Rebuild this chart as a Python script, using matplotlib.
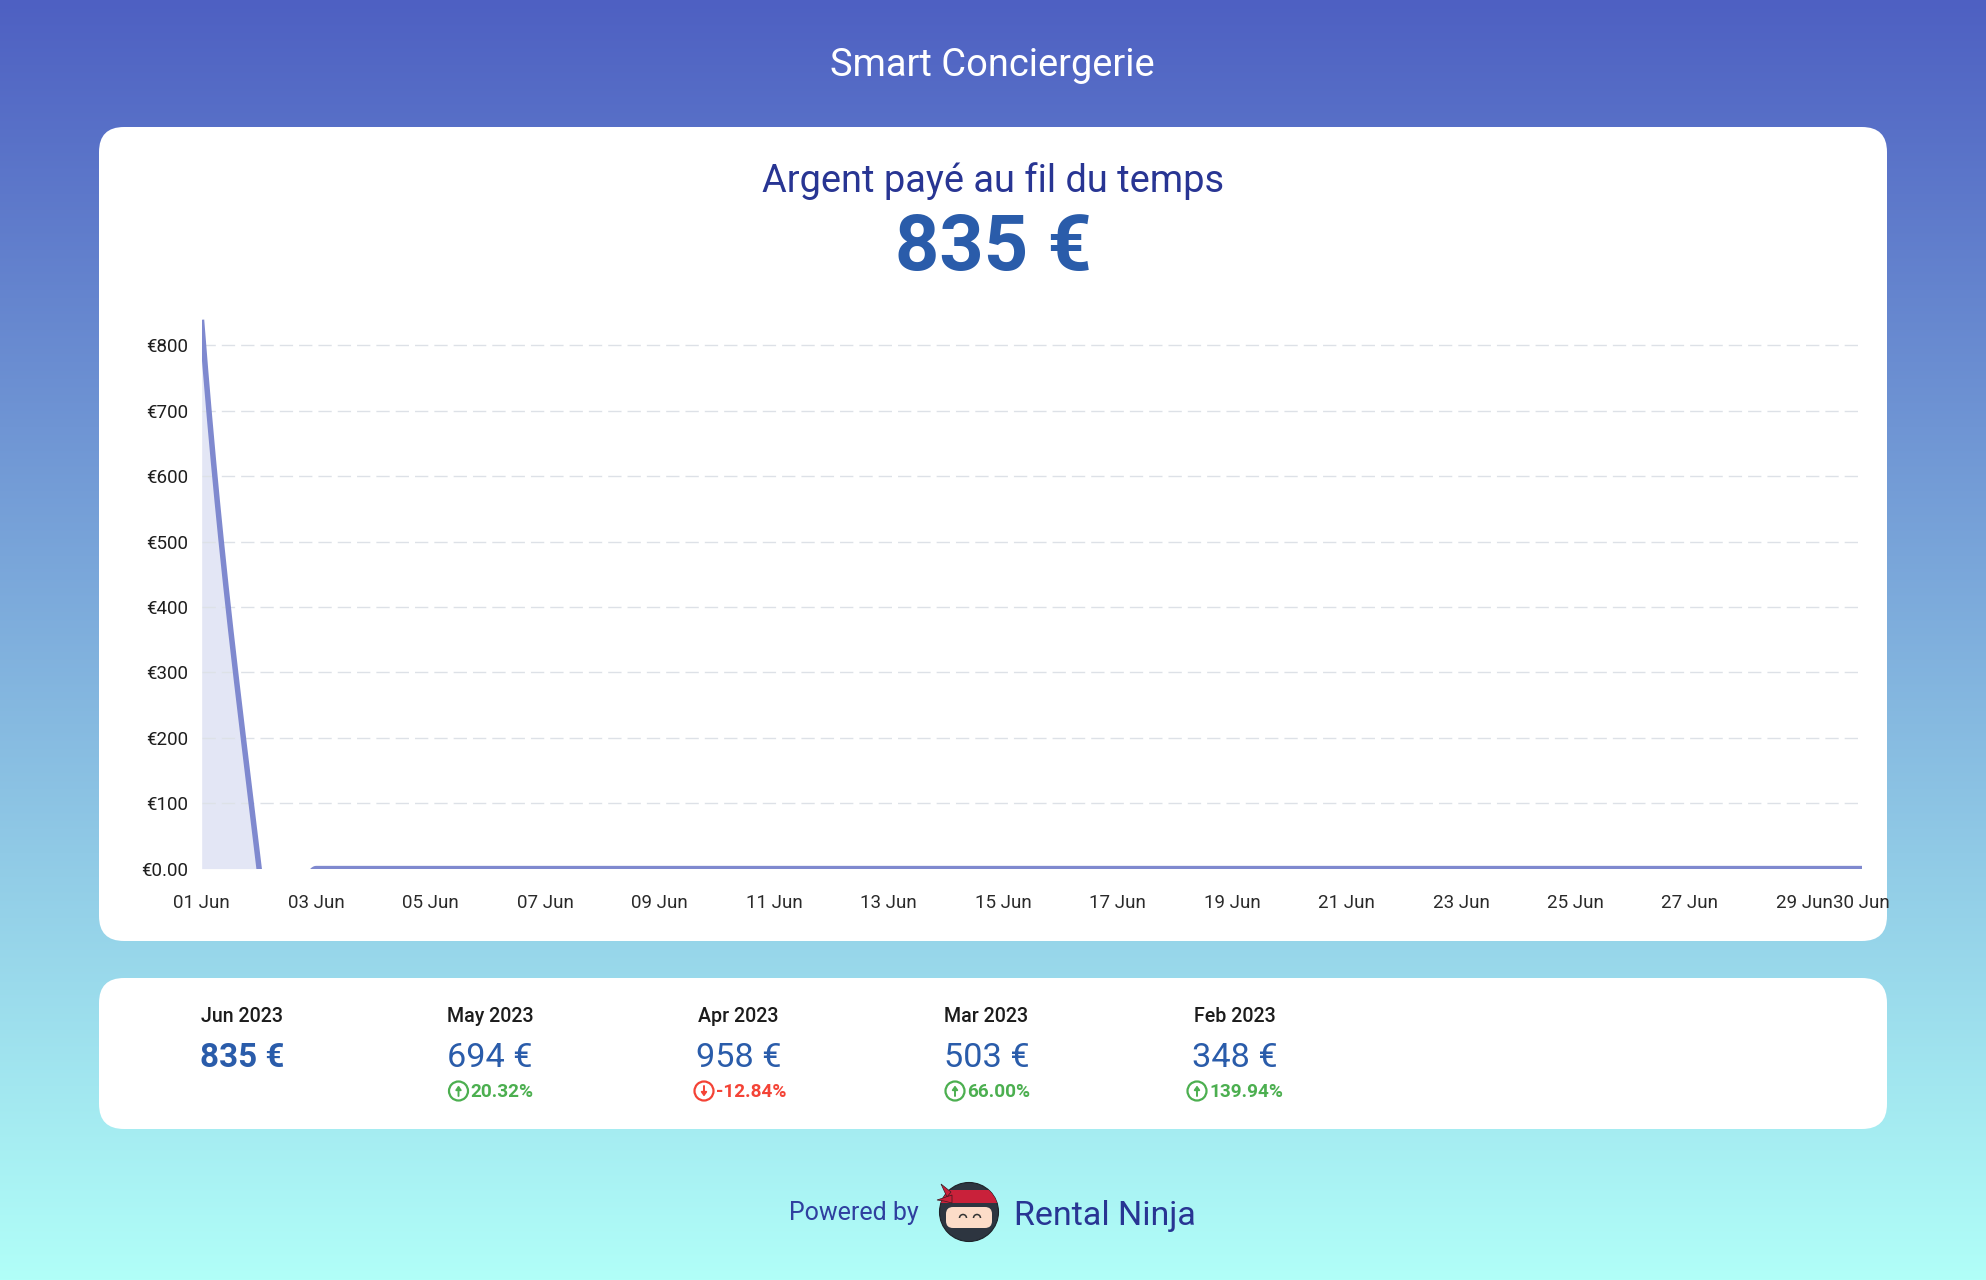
import numpy as np
import matplotlib
matplotlib.use("Agg")
import matplotlib.pyplot as plt
from matplotlib.patches import Circle, FancyBboxPatch, Polygon, Rectangle, Arc

plt.rcParams['font.family'] = ['Roboto', 'DejaVu Sans']

W, H = 1986, 1280

# Data
days = list(range(1, 31))
paid = [835] + [0] * 29
y_ticks = [0, 100, 200, 300, 400, 500, 600, 700, 800]
y_labels = ['€0.00', '€100', '€200', '€300', '€400', '€500', '€600', '€700', '€800']
x_ticks = [1, 3, 5, 7, 9, 11, 13, 15, 17, 19, 21, 23, 25, 27, 29, 30]
x_labels = ['%02d Jun' % d for d in x_ticks]

months = ['Jun 2023', 'May 2023', 'Apr 2023', 'Mar 2023', 'Feb 2023']
month_totals = ['835 €', '694 €', '958 €', '503 €', '348 €']
month_changes = [None, '20.32%', '-12.84%', '66.00%', '139.94%']

# Layout of the month columns
month_x = [242, 490, 738.5, 986.5, 1235]
icon_x = [None, 458.5, 704, 955, 1197]

GREEN = '#4caf50'
RED = '#f44336'
NAVY = '#283593'
BLUE = '#2a5caa'
LINE = '#7f89cf'
FILL = '#e3e6f5'


def px(size):
    # font size in pixels to points
    return size * 72 / 100


def smooth_curve(xs, ys, k=0.9, steps=60):
    # cubic hermite through the data, it overshoots after a drop like the original
    xs = np.array(xs, dtype=float)
    ys = np.array(ys, dtype=float)
    m = np.zeros(len(ys))
    m[1:-1] = k * (ys[2:] - ys[:-2])
    m[0] = 1.35 * (ys[1] - ys[0])
    out_x, out_y = [], []
    for i in range(len(xs) - 1):
        t = np.linspace(0, 1, steps)
        h00 = 2 * t**3 - 3 * t**2 + 1
        h10 = t**3 - 2 * t**2 + t
        h01 = -2 * t**3 + 3 * t**2
        h11 = t**3 - t**2
        out_x.append(xs[i] + t * (xs[i + 1] - xs[i]))
        out_y.append(h00 * ys[i] + h10 * m[i] + h01 * ys[i + 1] + h11 * m[i + 1])
    return np.concatenate(out_x), np.concatenate(out_y)


fig = plt.figure(figsize=(W / 100, H / 100), dpi=100)

# Page in pixel coordinates
bg = fig.add_axes([0, 0, 1, 1])
bg.set_xlim(0, W)
bg.set_ylim(H, 0)
bg.axis('off')

top = np.array([0x4e, 0x60, 0xc2]) / 255
bottom = np.array([0xb1, 0xff, 0xf8]) / 255
ramp = np.linspace(0, 1, H)[:, None, None]
gradient = top[None, None, :] * (1 - ramp) + bottom[None, None, :] * ramp
bg.imshow(gradient, extent=[0, W, H, 0], aspect='auto', zorder=0)

for (x0, y0, x1, y1) in [(99, 127, 1887, 941), (99, 978, 1887, 1129)]:
    bg.add_patch(FancyBboxPatch((x0 + 25, y0 + 25), x1 - x0 - 50, y1 - y0 - 50,
                                boxstyle='round,pad=25,rounding_size=25',
                                fc='white', ec='none', zorder=1))

bg.text(992.5, 66, 'Smart Conciergerie', color='white', fontsize=px(38), ha='center', va='center')
bg.text(993, 181, 'Argent payé au fil du temps', color=NAVY, fontsize=px(38), ha='center', va='center')
bg.text(993, 249, '835 €', color=BLUE, fontsize=px(77.5), fontweight='bold', ha='center', va='center')

# Month summary row
for i in range(len(months)):
    bg.text(month_x[i], 1017, months[i], color='#1c1c1c', fontsize=px(19.6), fontweight='medium',
            ha='center', va='center', zorder=2)
    bg.text(month_x[i], 1058, month_totals[i], color=BLUE, fontsize=px(33.3 if i == 0 else 34.3),
            fontweight='bold' if i == 0 else 'normal', ha='center', va='center', zorder=2)
    if month_changes[i] is None:
        continue
    up = not month_changes[i].startswith('-')
    colour = GREEN if up else RED
    cx, cy = icon_x[i], 1091
    bg.add_patch(Circle((cx, cy), 9.5, fc='none', ec=colour, lw=1.6, zorder=2))
    tip, tail = (cy - 5.5, cy + 5) if up else (cy + 5.5, cy - 5)
    bg.annotate('', xy=(cx, tip), xytext=(cx, tail), zorder=2,
                arrowprops=dict(arrowstyle='-|>,head_width=0.16,head_length=0.22', color=colour,
                                lw=1.4, shrinkA=0, shrinkB=0))
    bg.text(cx + 12, 1092, month_changes[i], color=colour, fontsize=px(19), fontweight='bold',
            ha='left', va='center', zorder=2)

# Footer
bg.text(789, 1213, 'Powered by', color='#2f3f9f', fontsize=px(25), ha='left', va='center', zorder=2)
bg.text(1014, 1216, 'Rental Ninja', color=NAVY, fontsize=px(34), ha='left', va='center', zorder=2)

# Ninja logo
head = Circle((969, 1212), 29.5, fc='#2d3540', ec='#1d2228', lw=0.8, zorder=2)
bg.add_patch(head)
skin = FancyBboxPatch((952, 1213), 34, 9, boxstyle='round,pad=6,rounding_size=7',
                      fc='#fcdcc8', ec='none', zorder=3)
bg.add_patch(skin)
band = Rectangle((930, 1190), 78, 13, fc='#c9213a', ec='none', zorder=3)
bg.add_patch(band)
band.set_clip_path(head)
bg.add_patch(Polygon([[951, 1192], [941, 1184], [947, 1197]], fc='#c9213a', ec='#3a1a20', lw=0.5, zorder=4))
bg.add_patch(Polygon([[952, 1195], [937, 1200], [944, 1201], [952, 1203]], fc='#c9213a', ec='#3a1a20', lw=0.5, zorder=4))
for ex in [963, 977]:
    bg.add_patch(Arc((ex, 1218), 7, 7, theta1=180, theta2=360, ec='#333333', lw=1.1, zorder=4))

# Chart
y_zero = 868.6
px_per_euro = 0.654
chart_bottom = 869.3
chart_top = y_zero - 840 * px_per_euro
chart_left = 201.7
chart_right = 1861.7
ax = fig.add_axes([chart_left / W, 1 - chart_bottom / H, (chart_right - chart_left) / W,
                   (chart_bottom - chart_top) / H])
ax.patch.set_alpha(0)
ax.set_xlim(days[0], days[-1])
ax.set_ylim(-(chart_bottom - y_zero) / px_per_euro, 840)

curve_x, curve_y = smooth_curve(days, paid)
ax.fill_between(curve_x, 0, curve_y, where=curve_y > 0, color=FILL, lw=0, zorder=1)
ax.plot(curve_x, curve_y, color=LINE, lw=px(5.5), zorder=3, solid_capstyle='projecting')

for v in y_ticks[1:]:
    ax.axhline(v, color='#dde1e7', lw=px(1.4), dashes=(9.5, 4.3), zorder=2)

for side in ax.spines.values():
    side.set_visible(False)
ax.set_yticks(y_ticks)
ax.set_yticklabels(y_labels)
ax.set_xticks(x_ticks)
ax.set_xticklabels(x_labels)
ax.tick_params(axis='y', length=0, pad=9.5, labelsize=px(18.8), labelcolor='#1e1e1e')
ax.tick_params(axis='x', length=0, pad=17.5, labelsize=px(18.8), labelcolor='#2a2a2a')

fig.savefig('out.png', dpi=100)
